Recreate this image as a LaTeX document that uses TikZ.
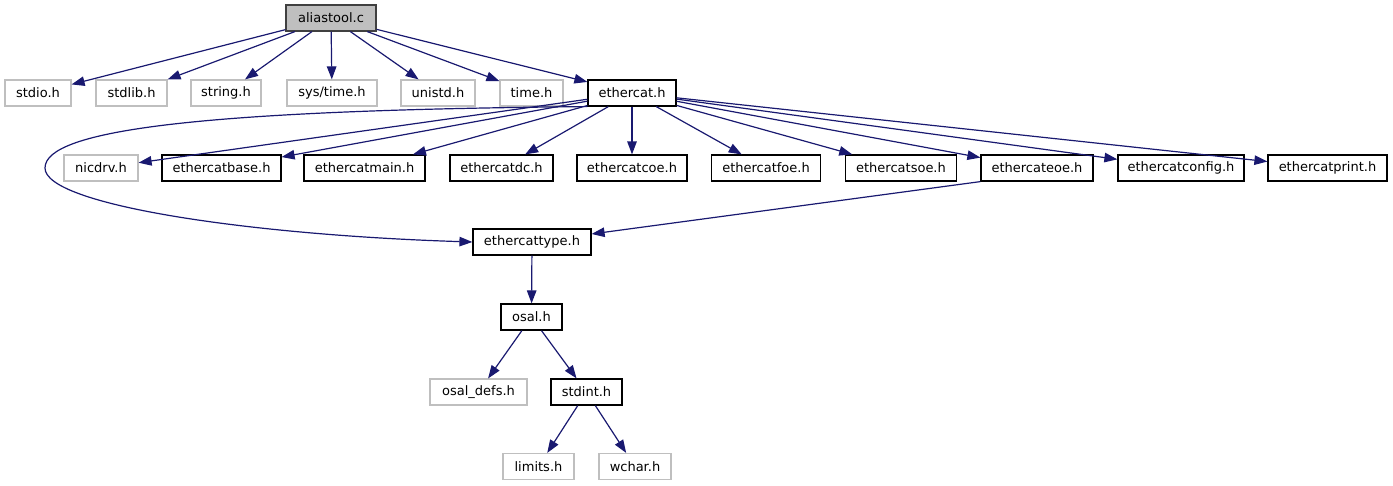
\documentclass[tikz,border=0pt]{standalone}
\usepackage{fontspec}
\setmainfont{DejaVu Sans}
\usetikzlibrary{arrows.meta}
\definecolor{edgeblue}{HTML}{191970}
\definecolor{greyline}{HTML}{BFBFBF}
\definecolor{rootfill}{HTML}{BFBFBF}
\definecolor{rootline}{HTML}{404040}
\tikzset{
  file/.style={draw=black, line width=1.2pt, rectangle, inner sep=0pt, minimum height=26pt, text=black, font=\fontsize{13}{15}\selectfont},
  sysfile/.style={file, draw=greyline},
  rootfile/.style={file, draw=rootline, fill=rootfill},
  dep/.style={draw=edgeblue, line width=1.2pt, -{Triangle[length=13pt,width=9.5pt,fill=edgeblue]}}
}
\begin{document}
\begin{tikzpicture}[x=1pt,y=-1pt]
\useasboundingbox (0,0) rectangle (1393,485);
% row 1
\node[rootfile, minimum width=90pt] (alias) at (331,18) {aliastool.c};
% row 2
\node[sysfile, minimum width=66pt] (stdio) at (38,93) {stdio.h};
\node[sysfile, minimum width=71pt] (stdlib) at (131.5,93) {stdlib.h};
\node[sysfile, minimum width=70pt] (string) at (226,93) {string.h};
\node[sysfile, minimum width=90pt] (systime) at (332,93) {sys/time.h};
\node[sysfile, minimum width=74pt] (unistd) at (438,93) {unistd.h};
\node[sysfile, minimum width=63pt] (time) at (531.5,93) {time.h};
\node[file, minimum width=88pt] (ecat) at (632,93) {ethercat.h};
% row 3
\node[sysfile, minimum width=74pt] (nicdrv) at (101,168) {nicdrv.h};
\node[file, minimum width=119pt] (base) at (221.5,168) {ethercatbase.h};
\node[file, minimum width=121pt] (main) at (364.5,168) {ethercatmain.h};
\node[file, minimum width=103pt] (dc) at (501.5,168) {ethercatdc.h};
\node[file, minimum width=110pt] (coe) at (632,168) {ethercatcoe.h};
\node[file, minimum width=109pt] (foe) at (766,168) {ethercatfoe.h};
\node[file, minimum width=111pt] (soe) at (901,168) {ethercatsoe.h};
\node[file, minimum width=112pt] (eoe) at (1037,168) {ethercateoe.h};
\node[file, minimum width=126pt] (config) at (1181,168) {ethercatconfig.h};
\node[file, minimum width=119pt] (print) at (1327.5,168) {ethercatprint.h};
% lower rows
\node[file, minimum width=118pt] (type) at (532,242) {ethercattype.h};
\node[file, minimum width=61pt] (osal) at (531.5,317) {osal.h};
\node[sysfile, minimum width=97pt] (osaldefs) at (478.5,392) {osal\_defs.h};
\node[file, minimum width=71pt] (stdint) at (586.5,392) {stdint.h};
\node[sysfile, minimum width=71pt] (limits) at (538.5,466.5) {limits.h};
\node[sysfile, minimum width=72pt] (wchar) at (635,466.5) {wchar.h};
% edges from aliastool.c
\foreach \t in {stdio,stdlib,string,systime,unistd,time,ecat}
  \draw[dep] (alias) -- (\t);
% edges from ethercat.h
\foreach \t in {nicdrv,base,main,dc,coe,foe,soe,eoe,config,print}
  \draw[dep] (ecat) -- (\t);
\draw[dep] (ecat.south west) .. controls (200,110) and (45,130) .. (45,168)
  .. controls (45,205) and (250,235) .. (type.west);
\draw[dep] (eoe.south west) -- (type);
\draw[dep] (type) -- (osal);
\draw[dep] (osal) -- (osaldefs);
\draw[dep] (osal) -- (stdint);
\draw[dep] (stdint) -- (limits);
\draw[dep] (stdint) -- (wchar);
\end{tikzpicture}
\end{document}
